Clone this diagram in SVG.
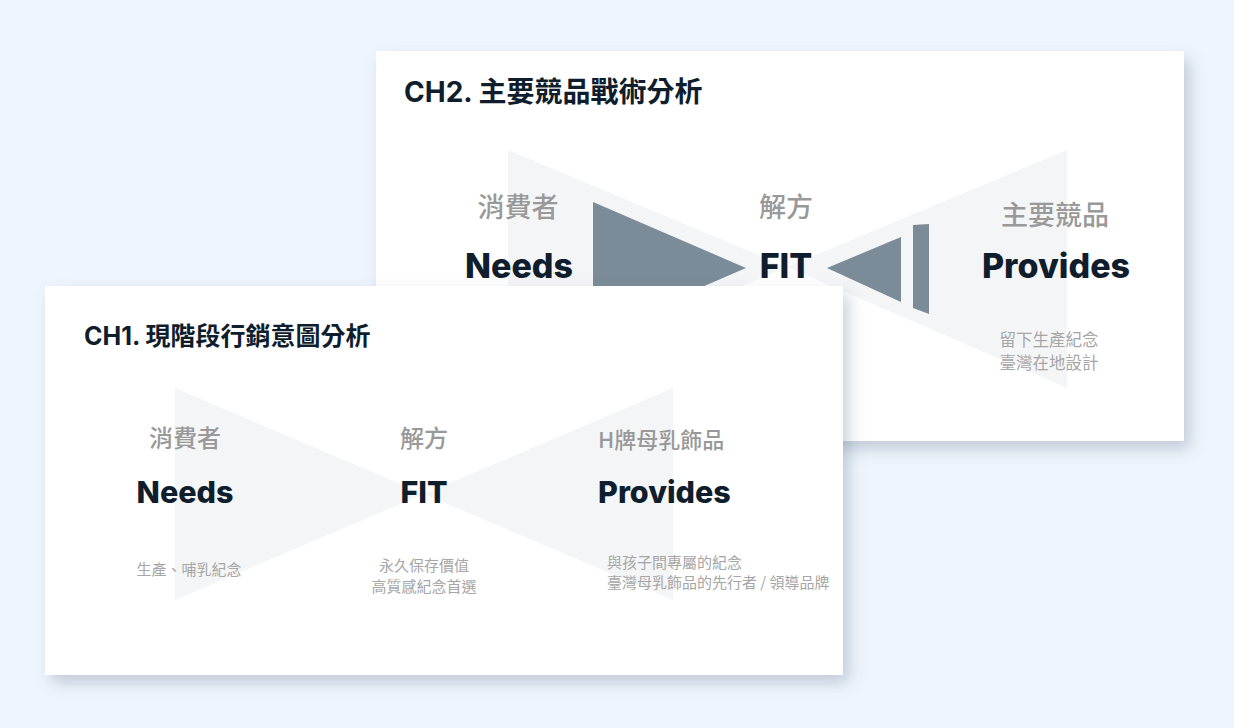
<svg xmlns="http://www.w3.org/2000/svg" width="1234" height="728" viewBox="0 0 1234 728">
<style>
.ttl{font-family:Inter,"Noto Sans","Noto Sans CJK TC",sans-serif;font-weight:700;fill:#0f1d2c}
.cat{font-family:"Noto Sans CJK TC","Noto Sans",sans-serif;font-weight:500;fill:#999999;text-anchor:middle}
.big{font-family:Inter,"Noto Sans",sans-serif;font-weight:800;fill:#0f1d2c;text-anchor:middle}
.desc{font-family:"Noto Sans CJK TC","Noto Sans",sans-serif;font-weight:400;fill:#a6a6a6;text-anchor:middle}
.lt{fill:#f4f5f7}
.dk{fill:#7b8b97}
.card{fill:#ffffff}
</style>
<defs>
<filter id="sh" x="-10%" y="-10%" width="125%" height="130%">
<feDropShadow dx="6" dy="8" stdDeviation="8" flood-color="#5a6a80" flood-opacity="0.3"/>
</filter>
</defs>
<rect width="1234" height="728" fill="#eef5fd"/>
<g id="card2">
<rect class="card" x="376" y="51" width="808" height="390" filter="url(#sh)"/>
<polygon class="lt" points="508,150 508,385 787,267"/>
<polygon class="lt" points="1067,150 1067,388 787,267"/>
<polygon class="dk" points="593,202 593,334 746,268"/>
<polygon class="dk" points="827,268 901,237 901,302"/>
<polygon class="dk" points="913,225 929,224 929,314 913,308"/>
<text class="ttl" x="404" y="102" font-size="28">CH2. 主要競品戰術分析</text>
<text class="cat" x="518" y="217" font-size="27">消費者</text>
<text class="big" x="519" y="278" font-size="34">Needs</text>
<text class="cat" x="786" y="217" font-size="27">解方</text>
<text class="big" x="786" y="278" font-size="34">FIT</text>
<text class="cat" x="1055" y="225" font-size="27">主要競品</text>
<text class="big" x="1056" y="278" font-size="34">Provides</text>
<text class="desc" x="1049" y="346" font-size="16.5">留下生產紀念</text>
<text class="desc" x="1049" y="369" font-size="16.5">臺灣在地設計</text>
</g>
<g id="card1">
<rect class="card" x="45" y="286" width="798" height="389" filter="url(#sh)"/>
<polygon class="lt" points="175,388 175,600 424,494"/>
<polygon class="lt" points="673,388 673,600 424,494"/>
<text class="ttl" x="84" y="345" font-size="25">CH1. 現階段行銷意圖分析</text>
<text class="cat" x="185" y="447" font-size="24">消費者</text>
<text class="big" x="185" y="503" font-size="30.5">Needs</text>
<text class="cat" x="424" y="447" font-size="24">解方</text>
<text class="big" x="424" y="503" font-size="30.5">FIT</text>
<text class="cat" x="598" y="448" font-size="22" style="text-anchor:start">H牌母乳飾品</text>
<text class="big" x="598" y="503" font-size="30.5" style="text-anchor:start">Provides</text>
<text class="desc" x="189" y="575" font-size="15">生產、哺乳紀念</text>
<text class="desc" x="424" y="571" font-size="15">永久保存價值</text>
<text class="desc" x="424" y="592" font-size="15">高質感紀念首選</text>
<text class="desc" x="607" y="568" font-size="15" style="text-anchor:start">與孩子間專屬的紀念</text>
<text class="desc" x="607" y="588" font-size="15" style="text-anchor:start">臺灣母乳飾品的先行者 / 領導品牌</text>
</g>
</svg>
